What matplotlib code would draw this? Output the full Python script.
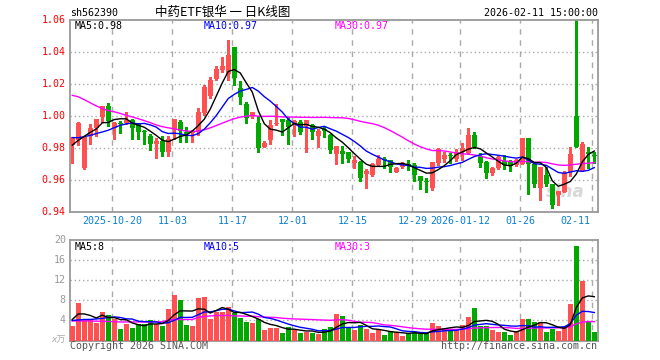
import numpy as np
import matplotlib
matplotlib.use("Agg")
import matplotlib.pyplot as plt

# ---------------- data ----------------
opens = [0.982, 0.985, 0.9675, 0.9875, 0.9927, 0.9997, 1.0063, 0.993, 0.996, 0.9956,
         0.9975, 0.9955, 0.991, 0.9875, 0.9827, 0.9846, 0.9775, 0.9915, 0.9965, 0.9902,
         0.9893, 0.9904, 1.002, 1.013, 1.0235, 1.0287, 1.0262, 1.0435, 1.0175, 1.0077,
         1.0005, 0.9958, 0.981, 0.985, 0.995, 0.998, 0.9975, 0.9946, 0.9967, 0.994,
         0.9945, 0.988, 0.9919, 0.988, 0.9765, 0.9783, 0.9777, 0.9707, 0.9717, 0.9638,
         0.9633, 0.9696, 0.9735, 0.9727, 0.9654, 0.9681, 0.9698, 0.9696, 0.9629, 0.9592,
         0.955, 0.9706, 0.9733, 0.9753, 0.9733, 0.9775, 0.9769, 0.9885, 0.9752, 0.9715,
         0.9648, 0.9679, 0.9723, 0.9717, 0.9696, 0.9700, 0.9867, 0.970, 0.955, 0.963,
         0.9578, 0.9505, 0.953, 0.965, 1.000, 0.9655, 0.9775, 0.9753]
highs = [0.987, 0.9965, 0.988, 0.995, 0.998, 1.0065, 1.0085, 0.9965, 0.9968, 1.0027,
         0.9983, 0.996, 0.9915, 0.989, 0.9863, 0.988, 0.9875, 0.9985, 0.998, 0.9935,
         0.9915, 1.005, 1.0195, 1.0248, 1.0315, 1.037, 1.048, 1.0435, 1.022, 1.009,
         1.003, 1.000, 0.9845, 0.998, 1.0077, 0.998, 0.9995, 0.998, 0.9975, 0.998,
         0.995, 0.992, 0.9935, 0.989, 0.9815, 0.9817, 0.978, 0.975, 0.972, 0.9668,
         0.971, 0.9758, 0.9748, 0.973, 0.9685, 0.9717, 0.9725, 0.971, 0.963, 0.9613,
         0.9717, 0.980, 0.9779, 0.9769, 0.9793, 0.9831, 0.9925, 0.9904, 0.9768, 0.9718,
         0.9685, 0.9758, 0.9758, 0.9727, 0.9733, 0.9867, 0.9867, 0.9715, 0.968, 0.9685,
         0.958, 0.953, 0.9655, 0.981, 1.060, 0.9842, 0.9807, 0.978]
lows = [0.971, 0.982, 0.967, 0.983, 0.988, 0.9965, 0.994, 0.986, 0.9895, 0.995,
        0.986, 0.9855, 0.983, 0.979, 0.974, 0.9752, 0.975, 0.986, 0.984, 0.984,
        0.984, 0.9883, 1.001, 1.0115, 1.0225, 1.028, 1.0225, 1.0196, 1.008, 0.9956,
        0.999, 0.9775, 0.9805, 0.9825, 0.9945, 0.9885, 0.983, 0.988, 0.989, 0.9775,
        0.986, 0.981, 0.9873, 0.977, 0.970, 0.971, 0.9713, 0.968, 0.9596, 0.9549,
        0.9625, 0.969, 0.968, 0.965, 0.965, 0.968, 0.9665, 0.9598, 0.9544, 0.953,
        0.954, 0.9698, 0.9713, 0.9706, 0.9723, 0.9727, 0.9762, 0.980, 0.9685, 0.9613,
        0.9633, 0.9672, 0.9669, 0.966, 0.969, 0.970, 0.9515, 0.956, 0.9478, 0.9565,
        0.9426, 0.9447, 0.953, 0.963, 0.9805, 0.9655, 0.9676, 0.9707]
closes = [0.987, 0.996, 0.987, 0.9925, 0.998, 1.0063, 0.997, 0.996, 0.995, 0.9978,
          0.993, 0.990, 0.990, 0.9827, 0.9846, 0.978, 0.9855, 0.998, 0.991, 0.9888,
          0.9905, 1.0027, 1.018, 1.0227, 1.0296, 1.0315, 1.0385, 1.0238, 1.0119, 0.9988,
          1.0027, 0.980, 0.9835, 0.9946, 0.996, 0.9967, 0.9935, 0.997, 0.990, 0.9977,
          0.990, 0.991, 0.991, 0.979, 0.9815, 0.9767, 0.9736, 0.9727, 0.9617, 0.9656,
          0.970, 0.9735, 0.9727, 0.9681, 0.9677, 0.9708, 0.9695, 0.9633, 0.9598, 0.959,
          0.9717, 0.9796, 0.9758, 0.9752, 0.9779, 0.980, 0.9885, 0.981, 0.9711, 0.9648,
          0.9675, 0.9748, 0.9696, 0.9687, 0.9727, 0.9867, 0.970, 0.9578, 0.968, 0.9578,
          0.9447, 0.953, 0.9644, 0.9763, 0.981, 0.9827, 0.9765, 0.975]
volumes = [2.9, 7.5, 4.3, 4.3, 3.5, 5.7, 5.1, 4.3, 2.3, 3.3,
           2.5, 3.3, 3.3, 4.1, 3.3, 2.9, 6.3, 9.1, 8.1, 3.1,
           2.8, 8.5, 8.7, 4.3, 5.7, 5.7, 6.7, 5.5, 4.5, 3.7,
           3.5, 4.3, 2.1, 2.5, 2.5, 1.5, 2.7, 2.1, 1.5, 1.7,
           1.5, 1.3, 2.3, 2.7, 5.3, 4.9, 2.7, 2.1, 3.1, 2.3,
           1.5, 2.1, 1.1, 1.9, 1.7, 0.9, 1.5, 1.7, 1.3, 1.5,
           3.5, 2.9, 2.5, 2.3, 2.3, 3.1, 4.7, 6.5, 2.9, 2.9,
           2.1, 1.7, 1.7, 1.1, 1.9, 4.3, 4.3, 3.7, 3.7, 1.7,
           2.3, 1.9, 2.5, 7.3, 18.9, 11.9, 3.9, 1.7]

# moving-average values before enough bars exist
ma5_head = [0.982, 0.985, 0.9875, 0.990]
ma10_head = [0.9867, 0.9866, 0.9873, 0.9881, 0.9892, 0.9902, 0.9913, 0.9929, 0.9944]
ma30_head = [1.0131, 1.0122, 1.0104, 1.0084, 1.0065, 1.0048, 1.0036, 1.0028, 1.0018, 1.0006,
             0.9996, 0.9985, 0.9973, 0.9960, 0.9946, 0.9935, 0.9928, 0.9922, 0.9914, 0.9908,
             0.9905, 0.9908, 0.9916, 0.9928, 0.9942, 0.9957, 0.9972, 0.9985, 0.9995]
vma5_head = [4.2, 5.3, 5.3, 5.0]
vma10_head = [4.0, 4.1, 4.2, 4.2, 4.3, 4.4, 4.6, 4.7, 4.6]
vma30_head = [3.9, 3.9, 3.9, 3.9, 3.85, 3.85, 3.8, 3.75, 3.7, 3.7,
              3.7, 3.7, 3.7, 3.7, 3.7, 3.75, 4.1, 4.2, 4.2, 4.2,
              4.2, 4.6, 4.8, 4.9, 5.0, 5.0, 5.0, 4.9, 4.9]

tick_idx = [7, 17, 27, 37, 47, 57, 65, 75, 87]
tick_labels = ["2025-10-20", "11-03", "11-17", "12-01", "12-15", "12-29",
               "2026-01-12", "01-26", "02-11"]
price_ticks = [0.94, 0.96, 0.98, 1.00, 1.02, 1.04, 1.06]
vol_ticks = [4, 8, 12, 16, 20]

code = "sh562390"
title = "中药ETF银华 一 日K线图"
stamp = "2026-02-11 15:00:00"
ma_labels = ["MA5:0.98", "MA10:0.97", "MA30:0.97"]
vma_labels = ["MA5:8", "MA10:5", "MA30:3"]

# ---------------- helpers ----------------
def moving(arr, n, head):
    arr = np.asarray(arr, float)
    out = np.full(len(arr), np.nan)
    out[:len(head)] = head
    for i in range(n - 1, len(arr)):
        out[i] = arr[i - n + 1:i + 1].mean()
    return out

RED = "#ff5151"
GREEN = "#00a800"
GRID = "#aaaaaa"
FRAME = "#999999"
MONO = "DejaVu Sans Mono"

o = np.array(opens); h = np.array(highs); l = np.array(lows); c = np.array(closes)
v = np.array(volumes)
x = np.arange(len(c))
up = c >= o
cols = np.where(up, RED, GREEN)

W, H = 660, 360
fig = plt.figure(figsize=(W / 100, H / 100), dpi=100)
fig.patch.set_facecolor("white")

def fx(px):
    return px / W

def fy(py):
    return 1 - py / H

L, R = 70, 597.7
ax = fig.add_axes([fx(L), fy(212.3), fx(R - L), (212.3 - 20.3) / H])
axv = fig.add_axes([fx(L), fy(340.5), fx(R - L), (340.5 - 240.3) / H])

x_left = -0.38
x_right = len(c) - 1 + (R - (72.3 + 6 * (len(c) - 1))) / 6.0

for a in (ax, axv):
    a.set_xlim(x_left, x_right)
    for s in a.spines.values():
        s.set_color(FRAME)
        s.set_linewidth(1.3)
    a.set_xticks([])
    a.tick_params(left=False, bottom=False, labelleft=False, labelbottom=False)
    for t in tick_idx:
        a.axvline(t - 0.33, color=GRID, lw=1.0, ls=(0, (4, 4)), zorder=0)

# ---- price panel ----
ax.set_ylim(price_ticks[0], price_ticks[-1])
for yv in price_ticks[1:-1]:
    ax.axhline(yv, color=GRID, lw=1.0, ls=(0, (1, 2)), zorder=0)

ax.vlines(x, l, h, colors=cols, lw=1.0, zorder=2, antialiased=False)
body_b = np.minimum(o, c)
body_h = np.maximum(np.abs(c - o), 0.0006)
ax.bar(x, body_h, bottom=body_b, width=0.8, color=cols, linewidth=0,
       antialiased=False, zorder=3)

ma5 = moving(c, 5, ma5_head)
ma10 = moving(c, 10, ma10_head)
ma30 = moving(c, 30, ma30_head)
ax.plot(x, ma30, color="#ff00ff", lw=1.0, zorder=4)
ax.plot(x, ma10, color="#0000ff", lw=1.0, zorder=4)
ax.plot(x, ma5, color="#000000", lw=1.0, zorder=4)

# watermark
ax.text(0.975, 0.06, "sina", transform=ax.transAxes, ha="right", va="bottom",
        fontsize=12, fontweight="bold", style="italic", color="#d8d8d8", zorder=1)

# ---- volume panel ----
axv.set_ylim(0, 20)
for yv in vol_ticks[:-1]:
    axv.axhline(yv, color=GRID, lw=1.0, ls=(0, (1, 2)), zorder=0)
axv.bar(x, v, width=0.8, color=cols, linewidth=0, antialiased=False, zorder=3)
vma5 = moving(v, 5, vma5_head)
vma10 = moving(v, 10, vma10_head)
vma30 = moving(v, 30, vma30_head)
axv.plot(x, vma30, color="#ff00ff", lw=1.0, zorder=4)
axv.plot(x, vma10, color="#0000ff", lw=1.0, zorder=4)
axv.plot(x, vma5, color="#000000", lw=1.0, zorder=4)

# ---------------- texts ----------------
FS = 7.2
for p in price_ticks:
    ax.text(-0.008, p, f"{p:.2f}", transform=ax.get_yaxis_transform(),
            ha="right", va="center", color="#ff0000", fontsize=FS, family=MONO)
for p in vol_ticks:
    axv.text(-0.008, p, f"{p}", transform=axv.get_yaxis_transform(),
             ha="right", va="center", color="#999999", fontsize=FS, family=MONO)
fig.text(fx(66), fy(340.5), "x万", ha="right", va="center", color="#aaaaaa",
         fontsize=6.5, family=["DejaVu Sans", "Noto Sans CJK SC"], style="italic")

for t, lab in zip(tick_idx, tick_labels):
    px = 72.3 + 6 * t - 2
    if t == tick_idx[-1]:
        fig.text(fx(590.5), fy(221.5), lab, ha="right", va="center",
                 color="#0a7fd0", fontsize=FS, family=MONO)
    else:
        fig.text(fx(px), fy(221.5), lab, ha="center", va="center",
                 color="#0a7fd0", fontsize=FS, family=MONO)

fig.text(fx(70), fy(13), code, ha="left", va="center", fontsize=FS,
         family=MONO, color="black")
fig.text(fx(222.5), fy(12.5), title, ha="center", va="center", fontsize=9,
         family=["Noto Sans CJK SC", "DejaVu Sans"], color="black")
fig.text(fx(597.5), fy(13), stamp, ha="right", va="center", fontsize=FS,
         family=MONO, color="black")

ma_cols = ["#000000", "#0000ff", "#ff00ff"]
ma_x = [75, 204, 334.7]
for lab, col, px in zip(ma_labels, ma_cols, ma_x):
    fig.text(fx(px), fy(26), lab, ha="left", va="center", fontsize=FS,
             family=MONO, color=col)
for lab, col, px in zip(vma_labels, ma_cols, ma_x):
    fig.text(fx(px), fy(247), lab, ha="left", va="center", fontsize=FS,
             family=MONO, color=col)

fig.text(fx(70), fy(346), "Copyright 2026 SINA.COM", ha="left", va="center",
         fontsize=FS, family=MONO, color="#555555")
fig.text(fx(597), fy(346), "http://finance.sina.com.cn", ha="right", va="center",
         fontsize=FS, family=MONO, color="#555555")

fig.savefig("out.png", dpi=100, facecolor="white")
